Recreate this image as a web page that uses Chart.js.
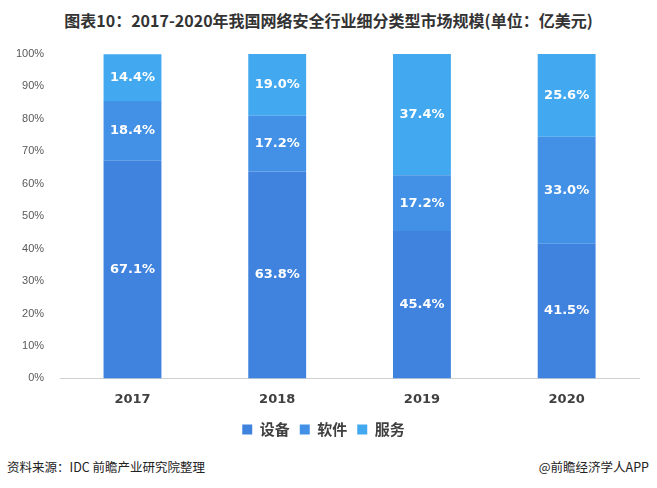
<!DOCTYPE html>
<html>
<head>
<meta charset="utf-8">
<script src="https://cdn.jsdelivr.net/npm/chart.js@4"></script>
<style>
  body { margin:0; background:#fff; width:657px; height:488px; overflow:hidden; position:relative;
         font-family:"Noto Sans CJK SC","Noto Sans",sans-serif; }
  #title { position:absolute; top:8px; left:0; width:657px; text-align:center;
           font-size:16px; font-weight:bold; color:#333; }
  #src  { position:absolute; top:457px; left:7px; font-size:12.5px; color:#222; }
  #app  { position:absolute; top:457px; right:8px; font-size:12.5px; color:#222; }
  #wrap { position:absolute; top:36px; left:0; width:657px; height:413px; }
</style>
</head>
<body>
<div id="title">图表10：2017-2020年我国网络安全行业细分类型市场规模(单位：亿美元)</div>
<div id="wrap"><canvas id="chart"></canvas></div>
<div id="src">资料来源：IDC 前瞻产业研究院整理</div>
<div id="app">@前瞻经济学人APP</div>
<script>
// data (share, %)
const YEARS    = ['2017', '2018', '2019', '2020'];
const HARDWARE = [67.1, 63.8, 45.4, 41.5];   // 设备
const SOFTWARE = [18.4, 17.2, 17.2, 33.0];   // 软件
const SERVICE  = [14.4, 19.0, 37.4, 25.6];   // 服务
const Y_TICKS  = [0, 10, 20, 30, 40, 50, 60, 70, 80, 90, 100];

// white % labels in the middle of each segment
const segLabels = {
  id: 'segLabels',
  afterDatasetsDraw(chart) {
    const ctx = chart.ctx;
    ctx.save();
    ctx.fillStyle = '#fff';
    ctx.font = 'bold 13px "DejaVu Sans", sans-serif';
    ctx.textAlign = 'center';
    ctx.textBaseline = 'middle';
    chart.data.datasets.forEach((ds, i) => {
      chart.getDatasetMeta(i).data.forEach((bar, j) => {
        const y = (bar.y + bar.base) / 2;
        ctx.fillText(ds.data[j].toFixed(1) + '%', bar.x, y);
      });
    });
    ctx.restore();
  }
};

new Chart(document.getElementById('chart'), {
  type: 'bar',
  data: {
    labels: YEARS,
    datasets: [
      { label: '设备', data: HARDWARE, backgroundColor: '#3f83df' },
      { label: '软件', data: SOFTWARE, backgroundColor: '#4291e6' },
      { label: '服务', data: SERVICE,  backgroundColor: '#42a9f1' }
    ]
  },
  options: {
    responsive: true,
    maintainAspectRatio: false,
    animation: false,
    layout: { padding: { left: 8, right: 18, top: 18, bottom: 2 } },
    datasets: { bar: { categoryPercentage: 1, barPercentage: 0.4 } },
    scales: {
      x: {
        stacked: true,
        grid: { display: false },
        border: { color: '#d0d0d0' },
        ticks: { color: '#404040', font: { size: 13, weight: 'bold', family: '"DejaVu Sans", sans-serif' }, padding: 5 }
      },
      y: {
        stacked: true, min: 0, max: 100,
        afterBuildTicks: ax => { ax.ticks = Y_TICKS.map(v => ({ value: v })); },
        grid: { display: false },
        border: { display: false },
        ticks: { color: '#595959', font: { size: 11 }, callback: v => v + '%', padding: 8 }
      }
    },
    plugins: {
      legend: {
        position: 'bottom',
        labels: { boxWidth: 10, boxHeight: 10, color: '#404040',
                  font: { size: 15, weight: 'bold', family: '"Noto Sans CJK SC", sans-serif' }, padding: 10 }
      },
      tooltip: { enabled: false }
    }
  },
  plugins: [segLabels]
});
</script>
</body>
</html>
